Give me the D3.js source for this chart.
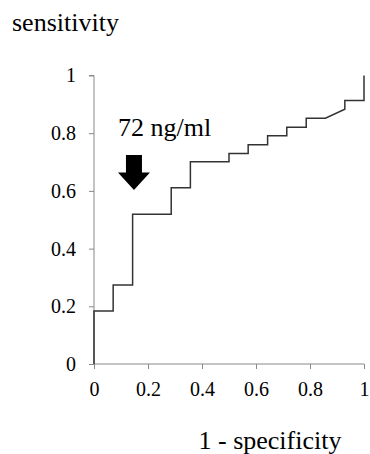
<!DOCTYPE html>
<html>
<head>
<meta charset="utf-8">
<script src="https://cdn.jsdelivr.net/npm/d3@7"></script>
</head>
<body style="margin:0">
<div id="chart"></div>
<script>
// ROC curve points (1 - specificity, sensitivity)
const fpr  = [0, 0, 0.071, 0.071, 0.143, 0.143, 0.286, 0.286, 0.357, 0.357, 0.5, 0.5, 0.571, 0.571, 0.643, 0.643, 0.714, 0.714, 0.786, 0.786, 0.857, 0.929, 0.929, 1, 1];
const sens = [0, 0.184, 0.184, 0.274, 0.274, 0.519, 0.519, 0.611, 0.611, 0.701, 0.701, 0.730, 0.730, 0.760, 0.760, 0.791, 0.791, 0.821, 0.821, 0.852, 0.852, 0.883, 0.913, 0.913, 1];
const xTicks = [0, 0.2, 0.4, 0.6, 0.8, 1];
const yTicks = [0, 0.2, 0.4, 0.6, 0.8, 1];
const cutoffLabel = "72 ng/ml";
const cutoffX = 0.148;

const serif = "'Liberation Serif', 'Times New Roman', serif";

const svg = d3.select("#chart").append("svg")
  .attr("width", 370)
  .attr("height", 454);

const x = d3.scaleLinear().domain([0, 1]).range([94, 364]);
const y = d3.scaleLinear().domain([0, 1]).range([364, 75.5]);

// y axis
const yAxis = svg.append("g")
  .attr("transform", "translate(" + x(0) + ",0)")
  .call(d3.axisLeft(y).tickValues(yTicks).tickSize(5).tickPadding(13).tickFormat(d => String(d)));
yAxis.select(".domain").attr("stroke", "#888").attr("d", "M0," + y(0) + "V" + y(1) + "H-5");
yAxis.selectAll(".tick line").attr("stroke", "#888");

// x axis
const xAxis = svg.append("g")
  .attr("transform", "translate(0," + y(0) + ")")
  .call(d3.axisBottom(x).tickValues(xTicks).tickSize(5).tickPadding(13).tickFormat(d => String(d)));
xAxis.select(".domain").attr("stroke", "#888").attr("d", "M" + x(0) + ",0H" + x(1));
xAxis.selectAll(".tick line").attr("stroke", "#888");

svg.selectAll(".tick text")
  .style("font-family", serif)
  .style("font-size", "20px")
  .style("fill", "#000");

// ROC step line
const pts = fpr.map((d, i) => [d, sens[i]]);
svg.append("path")
  .datum(pts)
  .attr("fill", "none")
  .attr("stroke", "#333")
  .attr("stroke-width", 1.5)
  .attr("d", d3.line().x(d => x(d[0])).y(d => y(d[1])));

// axis titles
svg.append("text")
  .attr("x", 12).attr("y", 31)
  .style("font-family", serif)
  .style("font-size", "26px")
  .text("sensitivity");

svg.append("text")
  .attr("x", 270).attr("y", 449)
  .attr("text-anchor", "middle")
  .style("font-family", serif)
  .style("font-size", "26px")
  .text("1 - specificity");

// cutoff annotation
svg.append("text")
  .attr("x", 118).attr("y", 136)
  .style("font-family", serif)
  .style("font-size", "26px")
  .text(cutoffLabel);

const ax = x(cutoffX);
svg.append("path")
  .attr("fill", "#000")
  .attr("d", "M" + (ax - 8) + ",155H" + (ax + 8) + "V172.5H" + (ax + 16) +
    "L" + ax + ",190L" + (ax - 16) + ",172.5H" + (ax - 8) + "Z");
</script>
</body>
</html>
